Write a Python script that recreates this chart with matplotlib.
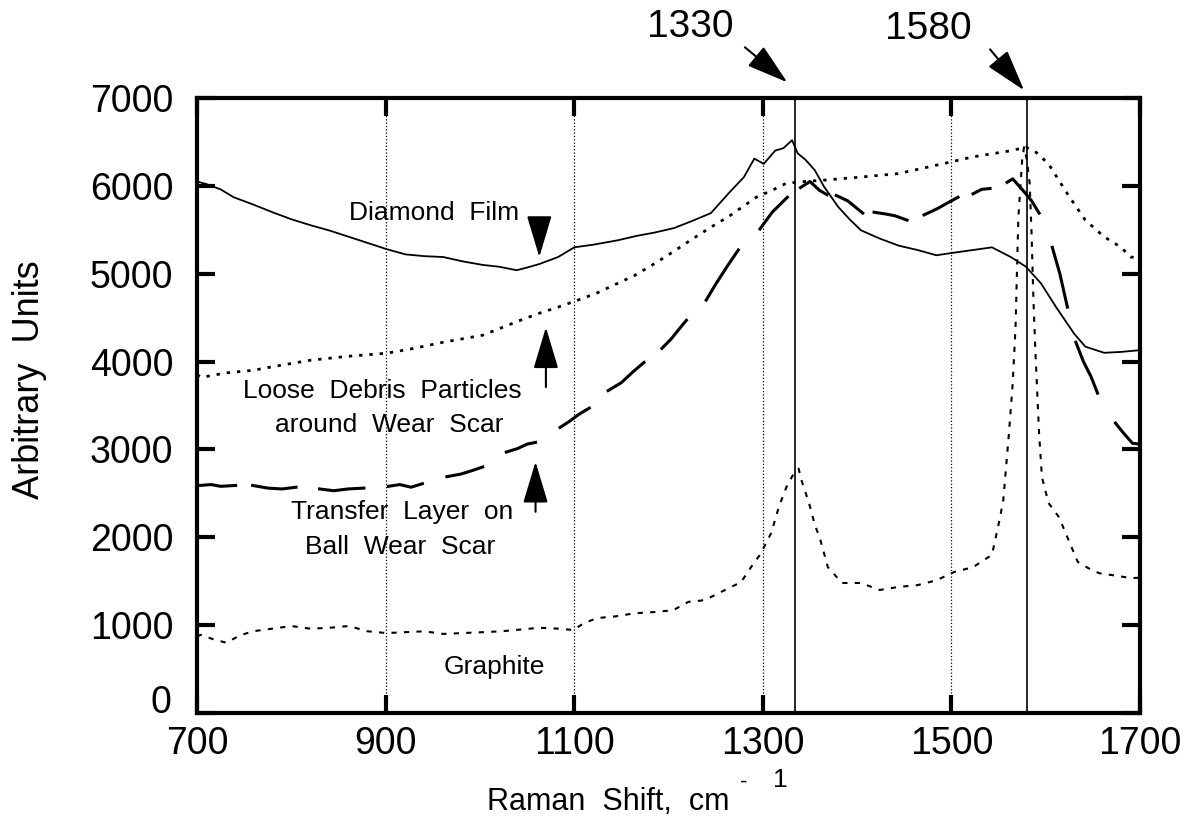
import matplotlib
matplotlib.use('Agg')
import matplotlib.pyplot as plt
import numpy as np

plt.rcParams['font.family'] = ['Liberation Sans', 'DejaVu Sans']

# ---------------- data ----------------
diamond_x = [700, 710, 725, 739, 759, 780, 800, 821, 841, 861, 881, 901, 921, 941, 961, 982,
             1003, 1020, 1039, 1050, 1063, 1083, 1100, 1120, 1146, 1166, 1186, 1206, 1225, 1245,
             1265, 1280, 1291, 1301, 1313, 1322, 1331, 1337, 1345, 1355, 1365, 1380, 1392, 1404,
             1424, 1444, 1464, 1484, 1503, 1523, 1543, 1563, 1579, 1595, 1611, 1630, 1642, 1662,
             1680, 1700]
diamond_y = [6050, 6020, 5960, 5870, 5790, 5700, 5620, 5550, 5490, 5420, 5350, 5280, 5220, 5200, 5190, 5140,
             5100, 5080, 5040, 5070, 5110, 5190, 5300, 5330, 5380, 5430, 5470, 5520, 5600, 5690,
             5930, 6100, 6310, 6250, 6400, 6430, 6520, 6370, 6300, 6180, 5990, 5760, 5620, 5495,
             5400, 5320, 5270, 5210, 5240, 5270, 5300, 5190, 5080, 4890, 4620, 4320, 4170, 4100,
             4110, 4130]

debris_x = [700, 705, 730, 759, 790, 820, 860, 901, 930, 961, 1003, 1043, 1063, 1083, 1104, 1124,
            1144, 1164, 1186, 1205, 1226, 1245, 1265, 1293, 1310, 1325, 1345, 1365, 1404, 1444,
            1484, 1523, 1563, 1579, 1590, 1603, 1623, 1642, 1662, 1680, 1690, 1700]
debris_y = [3850, 3820, 3870, 3900, 3960, 4015, 4060, 4095, 4150, 4220, 4300, 4470, 4550, 4620, 4700, 4780,
            4880, 4980, 5120, 5250, 5400, 5530, 5660, 5870, 5950, 6030, 6050, 6065, 6100, 6140,
            6235, 6330, 6400, 6440, 6380, 6250, 5910, 5610, 5420, 5300, 5190, 5180]

nan = np.nan
transfer_x = [703, 715, 725, 741, nan, 759, 775, 790, 805, nan, 830, 845, 860, 877, nan,
              903, 915, 927, 939, nan, 965, 980, 992, 1003, nan, 1028, 1040, 1050, 1059, nan,
              1085, 1095, 1105, 1116, nan, 1136, 1150, 1162, 1174, nan, 1193, 1203, 1212, 1219, nan,
              1240, 1250, 1262, 1274, nan, 1297, 1310, 1326, nan, 1340, 1350, 1360, 1368, nan,
              1378, 1390, 1398, 1406, nan, 1418, 1430, 1440, 1453, nan, 1471, 1485, 1495, 1507, nan,
              1523, 1532, 1541, nan, 1559, 1565, 1575, 1585, 1593, nan, 1607, 1615, 1623, nan,
              1632, 1640, 1648, 1655, nan, 1674, 1683, 1692, 1700]
transfer_y = [2590, 2600, 2580, 2590, nan, 2590, 2560, 2550, 2570, nan, 2550, 2530, 2550, 2560, nan,
              2580, 2600, 2570, 2610, nan, 2690, 2720, 2760, 2800, nan, 2970, 3010, 3060, 3080, nan,
              3250, 3320, 3400, 3470, nan, 3670, 3760, 3880, 3990, nan, 4150, 4260, 4380, 4470, nan,
              4700, 4880, 5080, 5270, nan, 5510, 5700, 5870, nan, 5980, 6050, 5950, 5900, nan,
              5890, 5830, 5760, 5690, nan, 5700, 5680, 5660, 5610, nan, 5670, 5740, 5800, 5870, nan,
              5910, 5960, 5970, nan, 6040, 6080, 5960, 5830, 5690, nan, 5300, 5000, 4620, nan,
              4220, 4000, 3830, 3640, nan, 3300, 3180, 3070, 3060]

graphite_x = [700, 704, 717, 731, 745, 759, 780, 800, 820, 841, 861, 881, 901, 921, 941, 961, 982,
              1003, 1023, 1043, 1063, 1083, 1099, 1110, 1124, 1144, 1164, 1186, 1205, 1221, 1235,
              1245, 1260, 1277, 1290, 1297, 1309, 1317, 1325, 1333, 1338, 1341, 1349, 1355, 1361,
              1369, 1384, 1404, 1424, 1444, 1464, 1484, 1503, 1523, 1543, 1551, 1555, 1561, 1565,
              1568, 1571, 1575, 1577, 1580, 1583, 1585, 1587, 1589, 1593, 1596, 1603, 1614, 1623,
              1634, 1645, 1657, 1670, 1682, 1690, 1700]
graphite_y = [870, 890, 840, 800, 880, 930, 960, 990, 960, 970, 990, 930, 910, 920, 930, 900, 910,
              920, 930, 950, 970, 960, 945, 1020, 1080, 1100, 1135, 1150, 1170, 1265, 1280,
              1320, 1400, 1490, 1700, 1800, 2050, 2345, 2570, 2730, 2780, 2650, 2390, 2150, 1970,
              1660, 1480, 1480, 1400, 1435, 1455, 1510, 1605, 1660, 1800, 2195, 2420, 3180, 3750,
              4390, 5640, 6290, 6440, 6300, 6030, 5460, 4700, 4130, 3180, 2685, 2390, 2230, 2000,
              1720, 1650, 1590, 1570, 1550, 1535, 1540]

peak_lines = [1334, 1580]
peak_labels = ['1330', '1580']
x_ticks = [700, 900, 1100, 1300, 1500, 1700]
y_ticks = [0, 1000, 2000, 3000, 4000, 5000, 6000, 7000]
y_tick_labels = ['0', '1000', '2000', '3000', '4000', '5000', '6000', '7000']

# ---------------- figure ----------------
fig = plt.figure(figsize=(11.88, 8.34), dpi=100)
ax = fig.add_axes([197 / 1188, 121 / 834, 943 / 1188, 615 / 834])

ax.plot(diamond_x, diamond_y, color='k', lw=1.3)
ax.plot(debris_x, debris_y, color='k', lw=2.0, linestyle=(0, (1.2, 2.5)))
ax.plot(transfer_x, transfer_y, color='k', lw=2.2)
ax.plot(graphite_x, graphite_y, color='k', lw=1.5, linestyle=(0, (2.5, 3.5)))

for xv in peak_lines:
    ax.axvline(xv, color='k', lw=1.2)

ax.set_xlim(700, 1700)
ax.set_ylim(0, 7000)
ax.set_xticks(x_ticks)
ax.set_yticks(y_ticks)
# the "0" label sits a little higher in the original; drawn separately below
ax.set_yticklabels([''] + y_tick_labels[1:])
ax.grid(axis='x', linestyle=':', color='k', lw=0.9)

for s in ax.spines.values():
    s.set_linewidth(3)
ax.tick_params(direction='in', length=13, width=3, top=True, right=True, labelsize=27)
ax.tick_params(axis='x', pad=9)
ax.tick_params(axis='y', pad=17)

ax.text(-26 / 943, 10 / 615, y_tick_labels[0], transform=ax.transAxes, fontsize=27,
        ha='right', va='center')

# axis labels
ax.text(0.3075, -0.158, 'Raman  Shift,  cm', transform=ax.transAxes, fontsize=22,
        ha='left', va='baseline')
ax.text(0.576, -0.113, '-', transform=ax.transAxes, fontsize=16, ha='left', va='center')
ax.text(0.611, -0.120, '1', transform=ax.transAxes, fontsize=19, ha='left', va='baseline')
fig.text(30 / 1188, 1 - 380 / 834, 'Arbitrary  Units', rotation=90, fontsize=26,
         ha='center', va='center')

# annotations
ax.text(951, 5691, 'Diamond  Film', fontsize=19, ha='center', va='center')
ax.text(897, 3665, 'Loose  Debris  Particles', fontsize=19, ha='center', va='center')
ax.text(904, 3278, 'around  Wear  Scar', fontsize=19, ha='center', va='center')
ax.text(918, 2288, 'Transfer  Layer  on', fontsize=19, ha='center', va='center')
ax.text(915, 1889, 'Ball  Wear  Scar', fontsize=19, ha='center', va='center')
ax.text(1015, 524, 'Graphite', fontsize=19, ha='center', va='center')

arw = dict(arrowstyle='-|>,head_length=1.0,head_width=0.3', color='k', lw=1.5,
           mutation_scale=26, shrinkA=0, shrinkB=0)
ax.annotate('', xy=(1063, 5190), xytext=(1063, 5640), arrowprops=arw)
ax.annotate('', xy=(1070, 4390), xytext=(1070, 3710), arrowprops=arw)
ax.annotate('', xy=(1059, 2860), xytext=(1059, 2290), arrowprops=arw)
ax.annotate('', xy=(1326, 7179), xytext=(1281, 7577), arrowprops=arw, annotation_clip=False)
ax.annotate('', xy=(1577, 7088), xytext=(1541, 7554), arrowprops=arw, annotation_clip=False)

ax.text(1223, 7804, peak_labels[0], fontsize=28, ha='center', va='center', clip_on=False)
ax.text(1476, 7782, peak_labels[1], fontsize=28, ha='center', va='center', clip_on=False)

fig.savefig('out.png', dpi=100)
